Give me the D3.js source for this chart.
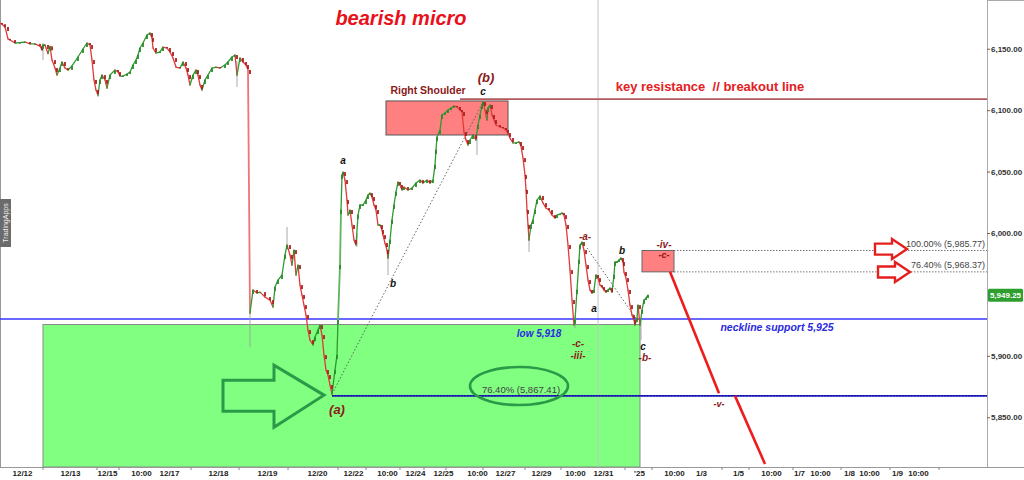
<!DOCTYPE html>
<html><head><meta charset="utf-8">
<script src="https://cdn.jsdelivr.net/npm/d3@7"></script>
<style>body{margin:0;background:#fff;} svg{display:block;font-family:"Liberation Sans",Arial,sans-serif;} text{white-space:pre;}</style>
</head><body><svg id="chart" width="1024" height="480"></svg>
<script>
// ---- DATA ----
const bars = [0,2,5,8,10,15,20,25,30,35,40,42,43,45,48,50,52,55,57,60,62,65,68,72,78,83,87,90,92,94,96,98,100,102,105,107,110,115,118,120,123,127,130,133,136,138,140,143,147,150,152,153,156,160,163,167,170,173,176,180,183,186,188,190,193,196,198,200,202,205,208,212,216,220,225,228,232,235,237,240,243,246,248,
250,253,257,260,265,270,273,275,278,282,285,287,290,292,294,296,298,300,302,304,306,308,310,313,315,318,320,322,324,326,328,330,332,335,337,338,340,341,342,343,345,347,348,350,352,354,356,358,360,363,366,368,370,372,374,376,378,380,382,383,385,387,388,390,392,394,396,398,400,402,404,408,412,416,420,423,427,430,433,435,436,437,440,442,445,448,451,454,457,460,462,464,466,468,470,473,476,478,480,482,483,485,487,488,490,492,494,496,500,503,506,508,510,513,516,519,521,523,525,526,527,528,529,531,533,535,537,540,543,546,549,552,555,557,560,562,564,566,568,570,572,574,575,577,579,580,582,584,586,588,590,592,594,596,598,600,602,604,606,608,610,612,614,615,617,619,621,623,624,626,628,630,632,634,635,637,638,640,642,644,646,648];
const closes = [6171.0,6170.0,6167.7,6158.0,6157.1,6154.7,6155.0,6155.5,6153.9,6154.0,6152.2,6149.0,6153.1,6153.1,6146.0,6152.0,6140.8,6134.3,6128.6,6134.3,6139.2,6134.3,6132.7,6136.0,6143.3,6149.8,6154.7,6153.1,6140.8,6124.6,6116.4,6112.3,6124.6,6128.6,6124.6,6118.0,6128.6,6132.7,6131.1,6127.8,6127.8,6129.4,6131.1,6136.8,6140.8,6144.9,6150.6,6154.7,6161.2,6162.8,6158.8,6150.6,6146.5,6147.4,6151.4,6150.6,6147.4,6142.5,6135.1,6134.3,6139.2,6134.3,6128.6,6120.5,6128.6,6132.7,6128.6,6120.5,6116.4,6124.6,6128.6,6134.3,6135.1,6134.3,6136.8,6139.2,6143.3,6144.9,6128.6,6142.5,6139.2,6136.8,6132.7,
5934.8,5953.6,5951.1,5951.9,5947.9,5945.4,5939.7,5956.0,5961.7,5965.8,5982.1,5990.2,5982.1,5973.9,5986.1,5965.8,5973.9,5957.6,5949.5,5941.3,5933.2,5921.0,5912.8,5908.8,5915.3,5921.0,5925.0,5916.9,5900.6,5888.4,5884.3,5876.2,5868.9,5888.4,5900.6,5929.1,5973.9,6018.7,6047.2,6049.6,6043.1,6026.8,6014.6,6018.7,6006.5,5994.3,5990.2,6014.6,6022.8,6022.8,6026.8,6030.9,6032.5,6029.3,6022.8,6018.7,6006.5,6006.5,6002.4,5998.3,5991.8,5986.1,5979.6,5994.3,6010.6,6022.8,6033.4,6041.5,6039.1,6035.0,6037.4,6035.0,6036.6,6040.7,6043.1,6040.7,6043.1,6040.7,6043.1,6055.3,6067.6,6078.1,6083.8,6096.1,6097.7,6100.1,6101.8,6103.4,6102.6,6100.1,6098.5,6082.2,6075.7,6071.6,6075.7,6079.8,6075.7,6087.9,6096.1,6104.2,6106.6,6100.1,6092.0,6101.8,6104.2,6096.1,6092.0,6087.9,6086.3,6085.5,6083.8,6081.4,6077.3,6073.3,6073.3,6074.1,6070.8,6061.0,6047.2,6035.0,6018.7,6006.5,5994.3,6006.5,6010.6,6018.7,6026.8,6030.1,6024.4,6020.3,6018.7,6014.6,6012.2,6014.6,6015.4,6016.3,6014.6,6006.5,5990.2,5969.8,5945.4,5925.0,5929.1,5953.6,5978.0,5990.2,5992.6,5986.1,5973.9,5961.7,5953.6,5951.1,5953.6,5965.8,5963.3,5957.6,5956.0,5953.6,5951.9,5953.6,5955.2,5951.9,5965.8,5976.4,5976.4,5978.0,5979.6,5976.4,5968.2,5963.3,5953.6,5941.3,5933.2,5929.1,5925.0,5930.7,5941.3,5925.0,5937.3,5945.4,5947.0,5949.5];
const wickBars  = [43, 98, 237, 250, 287, 357, 388, 477, 529, 575, 641];
const wickHighs = [6154.7, 6114.0, 6140.0, 5940.0, 6004.9, 6000.0, 5985.0, 6080.0, 6000.0, 5932.0, 5930.0];
const wickLows  = [6140.8, 6110.7, 6118.9, 5907.1, 5988.0, 5988.6, 5965.8, 6063.5, 5984.5, 5922.6, 5912.8];

const yTickValues = [5850, 5900, 6000, 6050, 6100, 6150];
const xTickPositions = [22,70,107,141,169,218,267,317,353,387,415,443,477,505,541,575,603,639,674,701,738,771,799,820,849,869,897,918];
const xTickLabels = ["12/12","12/13","12/15","10:00","12/17","12/18","12/19","12/20","12/22","10:00","12/24","12/25","10:00","12/27","12/29","10:00","12/31","'25","10:00","1/3","1/5","10:00","1/7","10:00","1/8","10:00","1/9","10:00"];
const dayMarks = [43,97,119,191,239,288,338,366,400,424,446,483,525,561,625,652,722,749,793,841,890,939];

const keyResistance = 6109, necklineLevel = 5930, fibLow = 5867.41, fib100 = 5985.77, fib764 = 5968.37, lastPrice = 5949.25;
const shoulderZone = {x0:386, x1:508, top:6107.5, bottom:6079.8};
const supportZone = {x0:43, x1:640, top:5925.5};
const waveIvZone = {x0:642, x1:674, top:fib100, bottom:fib764};
const currentBar = 598;
const dottedLegs = [[332,5868.9,483,6106.6],[587,5987.8,637,5929.1]];
const projection = [[670,5968.4,719,5869.5],[735,5867.4,765,5812]];

const labels = [
  {b:486,p:6127.0,t:"(b)",c:"#8b1a1a",s:13,w:"bold",i:true},
  {b:483,p:6115.6,t:"c",c:"#111",s:10,w:"bold",i:true},
  {b:428,p:6116.4,t:"Right Shoulder",c:"#8b1a1a",s:10.5,w:"bold",i:false},
  {b:710,p:6119.7,t:"key resistance  // breakout line",c:"#e3201e",s:13,w:"bold",i:false},
  {b:343,p:6059.4,t:"a",c:"#111",s:10,w:"bold",i:true},
  {b:393,p:5959.3,t:"b",c:"#111",s:10,w:"bold",i:true},
  {b:337,p:5856.6,t:"(a)",c:"#8b1a1a",s:13,w:"bold",i:true},
  {b:539,p:5918.5,t:"low 5,918",c:"#2a2ae0",s:10,w:"bold",i:true},
  {b:777,p:5923.4,t:"neckline support 5,925",c:"#2a2ae0",s:10.5,w:"bold",i:true},
  {b:585,p:5997.5,t:"-a-",c:"#8b1a1a",s:10,w:"bold",i:true},
  {b:622,p:5986.1,t:"b",c:"#111",s:10,w:"bold",i:true},
  {b:594,p:5938.9,t:"a",c:"#111",s:10,w:"bold",i:true},
  {b:578,p:5910.4,t:"-c-",c:"#8b1a1a",s:10,w:"bold",i:true},
  {b:578,p:5900.6,t:"-iii-",c:"#8b1a1a",s:10,w:"bold",i:true},
  {b:643,p:5908.0,t:"c",c:"#111",s:10,w:"bold",i:true},
  {b:645,p:5899.0,t:"-b-",c:"#8b1a1a",s:10,w:"bold",i:true},
  {b:664,p:5991.0,t:"-iv-",c:"#8b1a1a",s:10,w:"bold",i:true},
  {b:664,p:5982.1,t:"-c-",c:"#8b1a1a",s:9,w:"bold",i:true},
  {b:719,p:5860.7,t:"-v-",c:"#8b1a1a",s:9,w:"bold",i:true},
  {b:521,p:5872.1,t:"76.40% (5,867.41)",c:"#444",s:9.5,w:"normal",i:false}
];
const fibTexts = [{p:5991.0,t:"100.00% (5,985.77)"},{p:5973.9,t:"76.40% (5,968.37)"}];
const ellipseCenter = {b:519, p:5875.4};
const greenArrowTip = {b:324, p:5868.0};
const redArrowTips = [{b:907,p:5986.9},{b:910,p:5968.2}];

// ---- CHART ----
const svg = d3.select("#chart");
const plotRight = 987, plotBottom = 467;
const x = d3.scaleLinear().domain([0, 987]).range([0, plotRight]);
const y = d3.scaleLinear().domain([5809.5, 6189.7]).range([plotBottom, 0]);

svg.append("rect").attr("width",1024).attr("height",480).attr("fill","#fff");

// support zone
svg.append("rect").attr("x",x(supportZone.x0)).attr("y",y(supportZone.top))
  .attr("width",x(supportZone.x1)-x(supportZone.x0)).attr("height",plotBottom-y(supportZone.top))
  .attr("fill","#80ff80").attr("stroke","#8a8a8a").attr("stroke-width",1);
// shoulder zone
svg.append("rect").attr("x",x(shoulderZone.x0)).attr("y",y(shoulderZone.top))
  .attr("width",x(shoulderZone.x1)-x(shoulderZone.x0)).attr("height",y(shoulderZone.bottom)-y(shoulderZone.top))
  .attr("fill","#ff8080").attr("stroke","#555").attr("stroke-width",1);
// wave iv zone
svg.append("rect").attr("x",x(waveIvZone.x0)).attr("y",y(waveIvZone.top))
  .attr("width",x(waveIvZone.x1)-x(waveIvZone.x0)).attr("height",y(waveIvZone.bottom)-y(waveIvZone.top))
  .attr("fill","#ff8080").attr("stroke","#666").attr("stroke-width",1);

// current-bar vertical line
svg.append("line").attr("x1",x(currentBar)).attr("x2",x(currentBar)).attr("y1",0).attr("y2",plotBottom)
  .attr("stroke","#c4c4c4").attr("stroke-width",1);

// left border
svg.append("line").attr("x1",0.5).attr("x2",0.5).attr("y1",0).attr("y2",plotBottom).attr("stroke","#999");

// fib dotted lines
[fib100, fib764].forEach(v=>{
  svg.append("line").attr("x1",x(waveIvZone.x1)).attr("x2",x(987)).attr("y1",y(v)).attr("y2",y(v))
    .attr("stroke","#777").attr("stroke-width",1).attr("stroke-dasharray","1.5,1.5");
});
// 76.4% low level
svg.append("line").attr("x1",x(332)).attr("x2",x(987)).attr("y1",y(fibLow)).attr("y2",y(fibLow))
  .attr("stroke","#2424c8").attr("stroke-width",1.6);
svg.append("line").attr("x1",x(332)).attr("x2",x(987)).attr("y1",y(fibLow)).attr("y2",y(fibLow))
  .attr("stroke","#000070").attr("stroke-width",0.8).attr("stroke-dasharray","1.5,1.5");
// neckline
svg.append("line").attr("x1",x(0)).attr("x2",x(987)).attr("y1",y(necklineLevel)).attr("y2",y(necklineLevel))
  .attr("stroke","#3636ff").attr("stroke-width",1.5);
// key resistance
svg.append("line").attr("x1",x(460)).attr("x2",x(987)).attr("y1",y(keyResistance)).attr("y2",y(keyResistance))
  .attr("stroke","#b55a5a").attr("stroke-width",1.6);

// dotted wave legs
dottedLegs.forEach(d=>{
  svg.append("line").attr("x1",x(d[0])).attr("y1",y(d[1])).attr("x2",x(d[2])).attr("y2",y(d[3]))
    .attr("stroke","#555").attr("stroke-width",0.9).attr("stroke-dasharray","1.5,2");
});

// wicks
const n = Math.min(bars.length, closes.length);
svg.append("g").selectAll("line").data(wickBars).join("line")
  .attr("x1",(d)=>x(d)).attr("x2",(d)=>x(d))
  .attr("y1",(d,i)=>y(wickHighs[i])).attr("y2",(d,i)=>y(wickLows[i]))
  .attr("stroke","#a0a0a0").attr("stroke-width",0.9);

// price path segments
const segs = [];
for (let i=1;i<n;i++) segs.push({x0:bars[i-1],x1:bars[i],c0:closes[i-1],c1:closes[i]});
svg.append("g").selectAll("line").data(segs).join("line")
  .attr("x1",d=>x(d.x0)).attr("x2",d=>x(d.x1)).attr("y1",d=>y(d.c0)).attr("y2",d=>y(d.c1))
  .attr("stroke",d=>{
    const big = Math.abs(d.c1-d.c0)>35;
    if (d.c1>=d.c0) return big?"#5fb45f":"#2f9a2f";
    return big?"#f07474":"#e23a3a";
  })
  .attr("stroke-width",d=>Math.abs(d.c1-d.c0)>35?1.8:1.3)
  .attr("stroke-linecap","round");
// small candle bodies
svg.append("g").selectAll("rect").data(segs).join("rect")
  .attr("x",d=>x(d.x1)-0.9).attr("width",1.8)
  .attr("y",d=>y(Math.max(d.c0,d.c1))).attr("height",d=>Math.max(1,Math.min(4,Math.abs(y(d.c1)-y(d.c0)))))
  .attr("fill",d=>d.c1>=d.c0?"#2c8a2c":"#a82020");

// projection line
projection.forEach(d=>{
  svg.append("line").attr("x1",x(d[0])).attr("y1",y(d[1])).attr("x2",x(d[2])).attr("y2",y(d[3]))
    .attr("stroke","#ee1c1c").attr("stroke-width",2.6);
});

// ellipse
svg.append("ellipse").attr("cx",x(ellipseCenter.b)).attr("cy",y(ellipseCenter.p)).attr("rx",49).attr("ry",19)
  .attr("fill","none").attr("stroke","#2a9a48").attr("stroke-width",2.6);

// big green arrow
const gShape = [[-101,-15],[-50,-15],[-50,-30],[0,0],[-50,32],[-50,16],[-101,16]];
const gt = [x(greenArrowTip.b), y(greenArrowTip.p)];
svg.append("polygon").attr("points",gShape.map(p=>[gt[0]+p[0],gt[1]+p[1]].join(",")).join(" "))
  .attr("fill","none").attr("stroke","#2a9a48").attr("stroke-width",3).attr("stroke-linejoin","miter");

// red arrows
const rShape = [[-32,-5.5],[-15,-5.5],[-15,-10],[0,0],[-15,10],[-15,5.5],[-32,5.5]];
redArrowTips.forEach(t=>{
  const tx=x(t.b), ty=y(t.p);
  svg.append("polygon").attr("points",rShape.map(p=>[tx+p[0],ty+p[1]].join(",")).join(" "))
    .attr("fill","#fff").attr("stroke","#e3201e").attr("stroke-width",2.4);
});

// labels
svg.append("g").selectAll("text").data(labels).join("text")
  .attr("x",d=>x(d.b)).attr("y",d=>y(d.p)).attr("dy","0.35em").attr("text-anchor","middle")
  .attr("fill",d=>d.c).attr("font-size",d=>d.s).attr("font-weight",d=>d.w)
  .attr("font-style",d=>d.i?"italic":"normal").attr("xml:space","preserve").text(d=>d.t);
svg.append("g").selectAll("text").data(fibTexts).join("text")
  .attr("x",x(985)).attr("y",d=>y(d.p)).attr("dy","0.35em").attr("text-anchor","end")
  .attr("fill","#444").attr("font-size",9).text(d=>d.t);

// title
svg.append("text").attr("x",401).attr("y",25).attr("text-anchor","middle")
  .attr("fill","#e8101a").attr("font-size",20).attr("font-weight","bold").attr("font-style","italic")
  .text("bearish micro");

// TradingApps tag
svg.append("rect").attr("x",0).attr("y",199).attr("width",11).attr("height",48).attr("fill","#6b6b6b");
svg.append("text").attr("transform","translate(8,223) rotate(-90)").attr("text-anchor","middle")
  .attr("fill","#eee").attr("font-size",7).text("TradingApps");

// right axis
const yAxis = svg.append("g").attr("transform",`translate(${plotRight},0)`)
  .call(d3.axisRight(y).tickValues(yTickValues).tickSize(3).tickPadding(1).tickFormat(d3.format(",.2f")));
yAxis.select(".domain").attr("stroke","#aaa").attr("d",`M0.5,0V${plotBottom}`);
yAxis.selectAll(".tick line").attr("stroke","#666");
yAxis.selectAll("text").attr("font-size",8).attr("font-weight","bold").attr("fill","#333")
  .attr("font-family","'Liberation Sans',Arial,sans-serif");
svg.append("line").attr("x1",plotRight).attr("x2",1024).attr("y1",0.5).attr("y2",0.5).attr("stroke","#aaa");

// bottom axis
const xAxis = svg.append("g").attr("transform",`translate(0,${plotBottom})`)
  .call(d3.axisBottom(x).tickValues(xTickPositions).tickSize(0).tickPadding(3).tickFormat((d,i)=>xTickLabels[i]));
xAxis.select(".domain").attr("stroke","#999").attr("d",`M0,0.5H1024`);
xAxis.selectAll("text").attr("font-size",8).attr("font-weight","bold").attr("fill","#222")
  .attr("font-family","'Liberation Sans',Arial,sans-serif");
svg.append("g").selectAll("line").data(dayMarks).join("line")
  .attr("x1",d=>x(d)).attr("x2",d=>x(d)).attr("y1",plotBottom).attr("y2",plotBottom+3).attr("stroke","#888");

// last price tag
const tagY = y(lastPrice);
svg.append("rect").attr("x",plotRight+1).attr("y",tagY-6.5).attr("width",35).attr("height",13).attr("rx",1.5).attr("fill","#2e9e2e");
svg.append("text").attr("x",plotRight+18.5).attr("y",tagY).attr("dy","0.35em").attr("text-anchor","middle")
  .attr("fill","#fff").attr("font-size",8).attr("font-weight","bold").text(d3.format(",.2f")(lastPrice));
</script></body></html>
